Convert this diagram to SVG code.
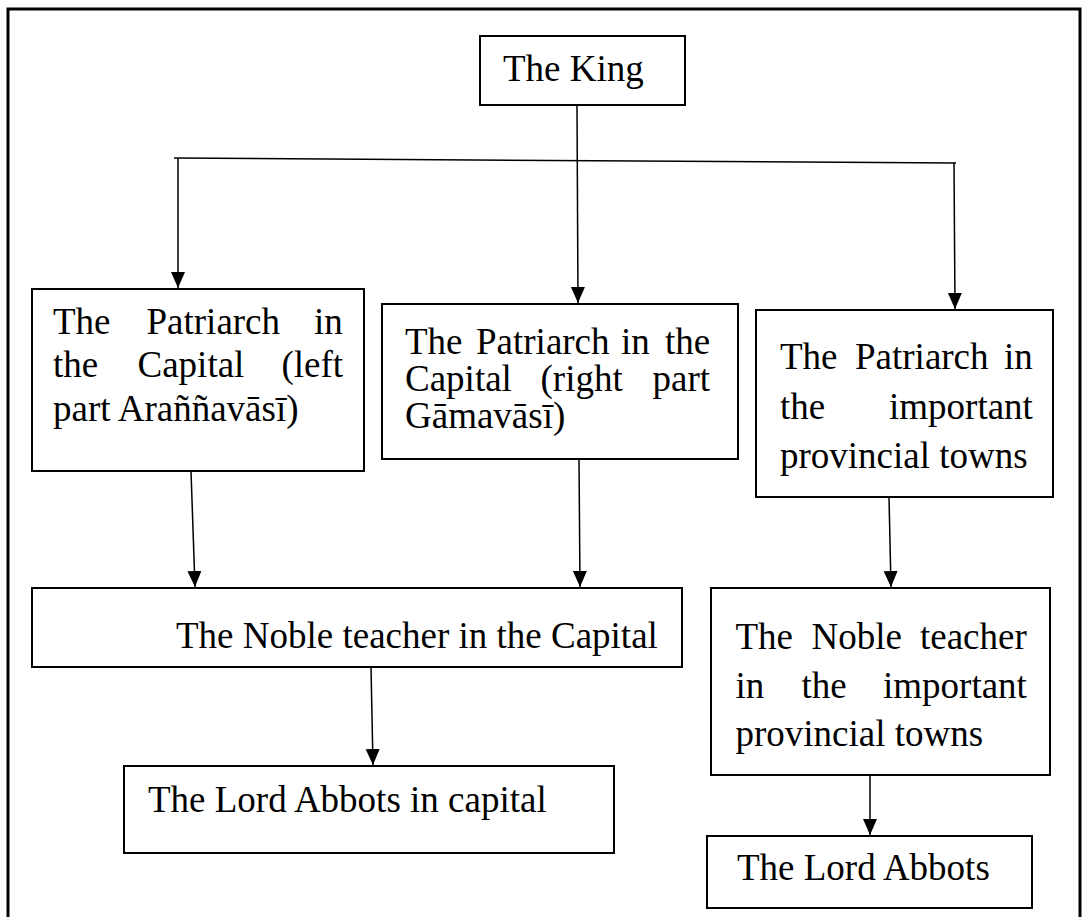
<svg xmlns="http://www.w3.org/2000/svg" width="1083" height="917" viewBox="0 0 1083 917">
  <style>
    .box { fill: #ffffff; stroke: #000000; stroke-width: 2; }
    .frame { fill: none; stroke: #000000; stroke-width: 3; }
    .link { fill: none; stroke: #000000; stroke-width: 1.5; }
    .lbl { font-family: "Liberation Serif", "Times New Roman", serif; font-size: 37px; fill: #000000; }
  </style>
  <defs>
    <marker id="arrow" markerUnits="userSpaceOnUse" markerWidth="16" markerHeight="16" viewBox="0 0 16 14" refX="16" refY="7" orient="auto">
      <path d="M0,0 L16,7 L0,14 z" fill="#000000"/>
    </marker>
  </defs>

  <rect class="frame" x="8" y="9" width="1072" height="930"/>

  <g id="connectors">
    <line class="link" x1="577" y1="105" x2="578" y2="303" marker-end="url(#arrow)"/>
    <line class="link" x1="174" y1="158" x2="956" y2="163"/>
    <line class="link" x1="178" y1="158" x2="178" y2="288" marker-end="url(#arrow)"/>
    <line class="link" x1="954" y1="163" x2="955" y2="309" marker-end="url(#arrow)"/>
    <line class="link" x1="191" y1="471" x2="195" y2="587" marker-end="url(#arrow)"/>
    <line class="link" x1="579" y1="459" x2="580" y2="587" marker-end="url(#arrow)"/>
    <line class="link" x1="889" y1="497" x2="891" y2="587" marker-end="url(#arrow)"/>
    <line class="link" x1="371" y1="667" x2="373" y2="765" marker-end="url(#arrow)"/>
    <line class="link" x1="870" y1="775" x2="870" y2="835" marker-end="url(#arrow)"/>
  </g>

  <g id="king">
    <rect class="box" x="480" y="36" width="205" height="69"/>
    <text class="lbl" x="503" y="81">The King</text>
  </g>

  <g id="patriarch-left">
    <rect class="box" x="32" y="289" width="332" height="182"/>
    <text class="lbl" y="334"><tspan x="53">The</tspan><tspan x="146.5">Patriarch</tspan><tspan x="314">in</tspan></text>
    <text class="lbl" y="377"><tspan x="53">the</tspan><tspan x="137.5">Capital</tspan><tspan x="281.5">(left</tspan></text>
    <text class="lbl" x="53" y="421">part Araññavāsī)</text>
  </g>

  <g id="patriarch-right">
    <rect class="box" x="382" y="304" width="356" height="155"/>
    <text class="lbl" y="354"><tspan x="405">The</tspan><tspan x="476">Patriarch</tspan><tspan x="621">in</tspan><tspan x="665">the</tspan></text>
    <text class="lbl" y="391"><tspan x="405">Capital</tspan><tspan x="540.5">(right</tspan><tspan x="652.5">part</tspan></text>
    <text class="lbl" x="405" y="428">Gāmavāsī)</text>
  </g>

  <g id="patriarch-provincial">
    <rect class="box" x="756" y="310" width="297" height="187"/>
    <text class="lbl" y="369"><tspan x="780">The</tspan><tspan x="855">Patriarch</tspan><tspan x="1004">in</tspan></text>
    <text class="lbl" y="419"><tspan x="780">the</tspan><tspan x="889">important</tspan></text>
    <text class="lbl" x="780" y="468">provincial towns</text>
  </g>

  <g id="noble-capital">
    <rect class="box" x="32" y="588" width="650" height="79"/>
    <text class="lbl" x="176" y="648">The Noble teacher in the Capital</text>
  </g>

  <g id="noble-provincial">
    <rect class="box" x="711" y="588" width="339" height="187"/>
    <text class="lbl" y="649"><tspan x="735.5">The</tspan><tspan x="811.5">Noble</tspan><tspan x="920">teacher</tspan></text>
    <text class="lbl" y="698"><tspan x="735.5">in</tspan><tspan x="801.5">the</tspan><tspan x="883">important</tspan></text>
    <text class="lbl" x="735.5" y="746">provincial towns</text>
  </g>

  <g id="abbots-capital">
    <rect class="box" x="124" y="766" width="490" height="87"/>
    <text class="lbl" x="148" y="812">The Lord Abbots in capital</text>
  </g>

  <g id="abbots-provincial">
    <rect class="box" x="707" y="836" width="325" height="72"/>
    <text class="lbl" x="737" y="880">The Lord Abbots</text>
  </g>
</svg>
